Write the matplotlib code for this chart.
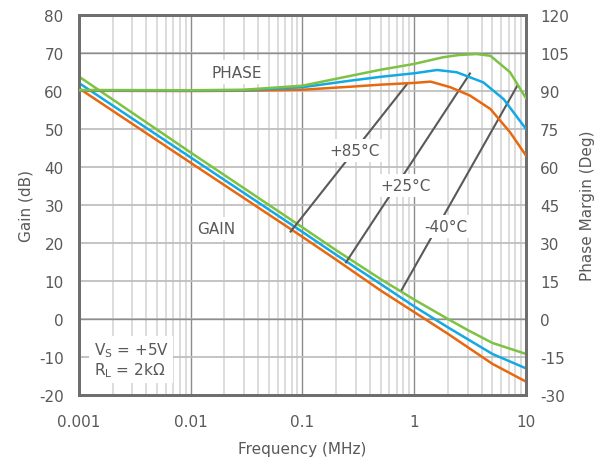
import numpy as np
import matplotlib
matplotlib.use("Agg")
import matplotlib.pyplot as plt

plt.rcParams["axes.unicode_minus"] = False

# ---------------- data ----------------
gain_freq = [0.001, 0.01, 0.1, 0.2, 0.5, 1.0, 2.0, 3.0, 5.0, 10.0]
gain_m40 = [63.8, 43.8, 24.1, 18.1, 10.5, 5.1, 0.0, -2.9, -6.3, -9.2]
gain_p25 = [62.1, 42.5, 22.9, 16.9, 9.2, 3.3, -2.2, -5.3, -9.2, -13.0]
gain_p85 = [60.7, 41.1, 21.6, 15.6, 7.5, 1.8, -3.9, -7.4, -11.8, -16.5]

ph_freq_m40 = [0.001, 0.01, 0.03, 0.1, 0.27, 0.5, 1.0, 1.8, 2.5, 3.6, 4.8, 7.2, 10.0]
phase_m40 = [90.4, 90.3, 90.5, 92.1, 96.0, 98.4, 100.7, 103.3, 104.2, 104.6, 103.9, 97.4, 87.1]
ph_freq_p25 = [0.001, 0.01, 0.03, 0.1, 0.27, 0.5, 1.0, 1.6, 2.4, 4.15, 6.3, 10.0]
phase_p25 = [90.3, 90.2, 90.3, 91.5, 94.1, 95.6, 97.0, 98.3, 97.4, 93.4, 86.8, 75.0]
ph_freq_p85 = [0.001, 0.01, 0.03, 0.1, 0.27, 0.5, 1.0, 1.4, 2.1, 3.15, 4.8, 7.2, 10.0]
phase_p85 = [90.1, 90.0, 90.1, 90.5, 91.7, 92.5, 93.2, 93.7, 91.5, 88.2, 82.9, 73.7, 64.5]

x_ticks = [0.001, 0.01, 0.1, 1, 10]
x_tick_labels = ["0.001", "0.01", "0.1", "1", "10"]
gain_ticks = list(range(-20, 81, 10))
phase_ticks = list(range(-30, 121, 15))

# temperature labels: label, label position, line start (on gain), line end (at phase) in gain-axis coords
temp_labels = ["+85°C", "+25°C", "-40°C"]
label_pos = [(0.295, 44.3), (0.837, 35.1), (1.91, 24.4)]
line_start = [(0.0783, 23.0), (0.245, 14.9), (0.773, 7.7)]
line_end = [(0.855, 61.7), (3.15, 64.6), (8.36, 61.4)]

# ---------------- style ----------------
GREEN = "#7dc242"
BLUE = "#13a9e3"
ORANGE = "#e8680f"
TXT = "#595959"
FS = 11

fig = plt.figure(figsize=(6.07, 4.64), dpi=100)
ax = fig.add_axes([0.1301, 0.1466, 0.7365, 0.8189])
ax2 = ax.twinx()

ax.set_xscale("log")
ax.set_xlim(0.001, 10)
ax.set_ylim(-20, 80)
ax2.set_ylim(-30, 120)

# grid
ax.set_axisbelow(True)
ax.grid(which="minor", axis="x", color="#d6d6d6", lw=1.2)
ax.grid(which="major", axis="x", color="#8c8c8c", lw=1.0)
ax.grid(which="major", axis="y", color="#bfbfbf", lw=1.3)
for yv in (70, 0):
    ax.axhline(yv, color="#8c8c8c", lw=1.0, zorder=0.6)

ax.set_xticks(x_ticks)
ax.set_xticklabels(x_tick_labels)
ax.set_yticks(gain_ticks)
ax2.set_yticks(phase_ticks)

for a in (ax, ax2):
    a.tick_params(which="both", length=0, labelsize=FS, labelcolor=TXT)
    for s in a.spines.values():
        s.set_color("#6e6e6e")
        s.set_linewidth(2.0)
ax.tick_params(axis="x", pad=14)
ax.tick_params(axis="y", pad=11)
ax2.tick_params(axis="y", pad=10)

# gain curves (lower axes, above its grid)
ax.plot(gain_freq, gain_p85, color=ORANGE, lw=1.8, zorder=3)
ax.plot(gain_freq, gain_p25, color=BLUE, lw=1.8, zorder=3)
ax.plot(gain_freq, gain_m40, color=GREEN, lw=1.8, zorder=3)
# phase curves (upper twin axes)
ax2.plot(ph_freq_p85, phase_p85, color=ORANGE, lw=1.8, zorder=3)
ax2.plot(ph_freq_p25, phase_p25, color=BLUE, lw=1.8, zorder=3)
ax2.plot(ph_freq_m40, phase_m40, color=GREEN, lw=1.8, zorder=3)

box = dict(facecolor="white", edgecolor="none", pad=3)
for lab, lp, ls, le in zip(temp_labels, label_pos, line_start, line_end):
    ax.plot([ls[0], le[0]], [ls[1], le[1]], color="#595959", lw=1.5, zorder=4)
    ax.text(lp[0], lp[1], lab, ha="center", va="center", fontsize=FS,
            color=TXT, bbox=box, zorder=5)

ax.text(0.0259, 65.0, "PHASE", ha="center", va="center", fontsize=FS,
        color=TXT, bbox=box, zorder=5)
ax.text(0.0168, 23.9, "GAIN", ha="center", va="center", fontsize=FS,
        color=TXT, bbox=box, zorder=5)
ax.text(0.00135, -10.6, "V$_\\mathregular{S}$ = +5V\nR$_\\mathregular{L}$ = 2kΩ",
        ha="left", va="center", fontsize=FS, color=TXT, bbox=box, zorder=5,
        linespacing=1.1)

ax.set_xlabel("Frequency (MHz)", fontsize=FS, color=TXT, labelpad=8)
ax.set_ylabel("Gain (dB)", fontsize=FS, color=TXT, labelpad=4)
ax2.set_ylabel("Phase Margin (Deg)", fontsize=FS, color=TXT, labelpad=8)

fig.savefig("out.png", dpi=100)
